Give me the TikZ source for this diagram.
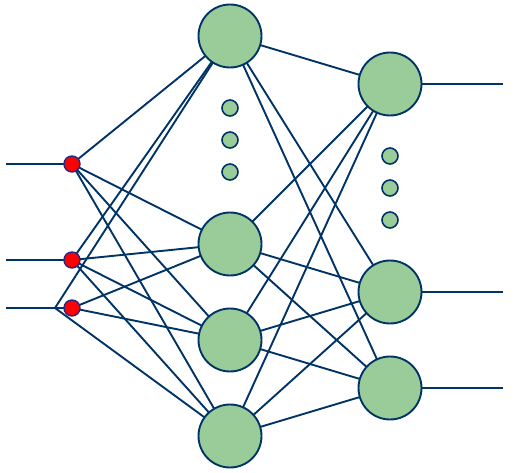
\documentclass[tikz,border=0pt]{standalone}
\begin{document}
\begin{tikzpicture}[x=1pt,y=-1pt,
  link/.style={draw=linkc,line width=1.9pt},
  bignode/.style={circle,draw=linkc,line width=1.9pt,fill=nodegreen,minimum size=63pt,inner sep=0pt},
  dotnode/.style={circle,draw=linkc,line width=1.6pt,fill=nodegreen,minimum size=16pt,inner sep=0pt},
  innode/.style={circle,draw=inborder,line width=1.4pt,fill=red,minimum size=16pt,inner sep=0pt}]
\definecolor{linkc}{RGB}{0,51,102}
\definecolor{nodegreen}{RGB}{153,204,153}
\definecolor{inborder}{RGB}{40,40,130}
\useasboundingbox (0,0) rectangle (517,473);
% coordinates
\coordinate (i1) at (72,164);
\coordinate (i2) at (72,260);
\coordinate (i3) at (72,308);
\coordinate (j3) at (55,308);
\coordinate (s1) at (6,164);
\coordinate (s2) at (6,260);
\coordinate (s3) at (6,308);
\coordinate (h1) at (230,36);
\coordinate (h2) at (230,244);
\coordinate (h3) at (230,340);
\coordinate (h4) at (230,436);
\coordinate (o1) at (390,84);
\coordinate (o2) at (390,292);
\coordinate (o3) at (390,388);
\coordinate (e1) at (503,84);
\coordinate (e2) at (503,292);
\coordinate (e3) at (503,388);
% connectors
\draw[link] (s1) -- (i1);
\draw[link] (s2) -- (i2);
\draw[link] (s3) -- (i3);
\foreach \h in {h1,h2,h3,h4} {
  \draw[link] (i1) -- (\h);
  \draw[link] (i2) -- (\h);
}
\draw[link] (j3) -- (h1);
\draw[link] (i3) -- (h2);
\draw[link] (i3) -- (h3);
\draw[link] (j3) -- (h4);
\foreach \h in {h1,h2,h3,h4} {
  \foreach \o in {o1,o2,o3} {
    \draw[link] (\h) -- (\o);
  }
}
\draw[link] (o1) -- (e1);
\draw[link] (o2) -- (e2);
\draw[link] (o3) -- (e3);
% nodes
\node[innode] (n1) at (i1) {};
\node[innode] (n2) at (i2) {};
\node[innode] (n3) at (i3) {};
\node[bignode] (H1) at (h1) {};
\node[bignode] (H2) at (h2) {};
\node[bignode] (H3) at (h3) {};
\node[bignode] (H4) at (h4) {};
\node[dotnode] (d1) at (230,108) {};
\node[dotnode] (d2) at (230,140) {};
\node[dotnode] (d3) at (230,172) {};
\node[bignode] (O1) at (o1) {};
\node[bignode] (O2) at (o2) {};
\node[bignode] (O3) at (o3) {};
\node[dotnode] (d4) at (390,156) {};
\node[dotnode] (d5) at (390,188) {};
\node[dotnode] (d6) at (390,220) {};
\end{tikzpicture}
\end{document}
